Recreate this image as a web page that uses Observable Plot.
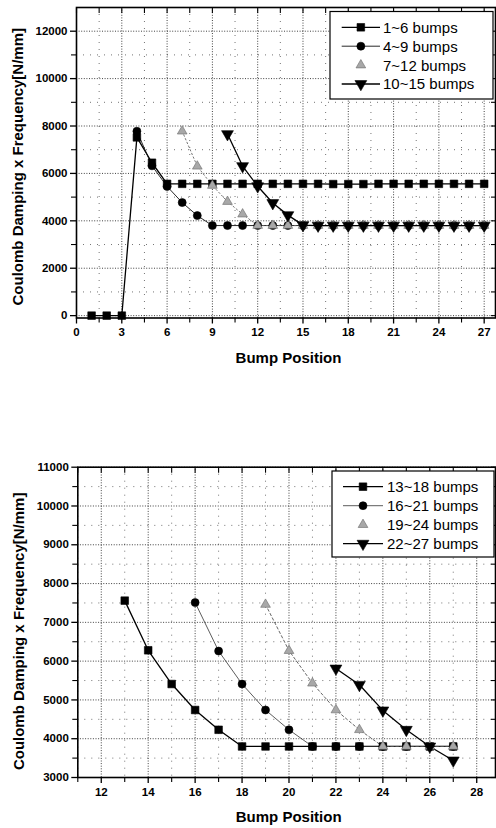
<!DOCTYPE html>
<html><head><meta charset="utf-8">
<script src="https://cdn.jsdelivr.net/npm/d3@7"></script>
<script src="https://cdn.jsdelivr.net/npm/@observablehq/plot@0.6"></script>
<style>
body{margin:0;background:#fff;}
#wrap{width:496px;height:828px;overflow:hidden;background:#fff;}
#wrap svg{display:block;}
</style></head><body><div id="wrap"></div>
<script>
// ---------- DATA (top chart) ----------
const s1Pos = [1,2,3,4,5,6,7,8,9,10,11,12,13,14,15,16,17,18,19,20,21,22,23,24,25,26,27];
const s1Val = [0,0,0,7520,6450,5560,5560,5560,5560,5560,5560,5560,5560,5560,5560,5560,5550,5550,5550,5560,5560,5560,5560,5560,5560,5560,5560];
const s2Pos = [4,5,6,7,8,9,10,11,12,13,14,15,16,17,18,19,20,21,22,23,24,25,26,27];
const s2Val = [7780,6320,5450,4770,4220,3800,3800,3800,3800,3800,3800,3800,3800,3800,3800,3800,3800,3800,3800,3800,3800,3800,3800,3800];
const s3Pos = [7,8,9,10,11,12,13,14,15,16,17,18,19,20,21,22,23,24,25,26,27];
const s3Val = [7780,6300,5490,4810,4280,3800,3800,3800,3800,3800,3800,3800,3800,3800,3800,3800,3800,3800,3800,3800,3800];
const s4Pos = [10,11,12,13,14,15,16,17,18,19,20,21,22,23,24,25,26,27];
const s4Val = [7660,6310,5460,4750,4240,3820,3800,3800,3800,3800,3800,3800,3800,3800,3800,3800,3800,3800];
const topNames = ["1~6 bumps","4~9 bumps","7~12 bumps","10~15 bumps"];
const topXTicks = [0,3,6,9,12,15,18,21,24,27];
const topXMinor = [1.5,4.5,7.5,10.5,13.5,16.5,19.5,22.5,25.5];
const topYTicks = [0,2000,4000,6000,8000,10000,12000];
const topYMinor = [1000,3000,5000,7000,9000,11000];

// ---------- DATA (bottom chart) ----------
const s5Pos = [13,14,15,16,17,18,19,20,21,22,23,24,25,26,27];
const s5Val = [7560,6280,5410,4740,4230,3800,3800,3800,3800,3800,3800,3800,3800,3800,3800];
const s6Pos = [16,17,18,19,20,21,22,23,24,25,26,27];
const s6Val = [7510,6260,5410,4740,4230,3800,3800,3800,3800,3800,3800,3800];
const s7Pos = [19,20,21,22,23,24,25,26,27];
const s7Val = [7460,6270,5430,4740,4230,3800,3800,3800,3800];
const s8Pos = [22,23,24,25,26,27];
const s8Val = [5810,5390,4730,4230,3800,3440];
const botNames = ["13~18 bumps","16~21 bumps","19~24 bumps","22~27 bumps"];
const botXTicks = [12,14,16,18,20,22,24,26,28];
const botXMinor = [11,13,15,17,19,21,23,25,27];
const botYTicks = [3000,4000,5000,6000,7000,8000,9000,10000,11000];
const botYMinor = [3500,4500,5500,6500,7500,8500,9500,10500];

const yLabel = "Coulomb Damping x Frequency[N/mm]";
const xLabel = "Bump Position";

// ---------- STYLES ----------
const styles = [
  {symbol:"square",   rotate:0,   r:4.3, fill:"#000", stroke:"#000", line:"#000", lw:1.3, dash:null, legendLine:true},
  {symbol:"circle",   rotate:0,   r:4.0, fill:"#000", stroke:"#000", line:"#111", lw:0.9, dash:null, legendLine:true},
  {symbol:"triangle", rotate:0,   r:3.6, fill:"#a8a8a8", stroke:"#6a6a6a", line:"#666", lw:0.9, dash:"1.5,2.5", legendLine:false},
  {symbol:"triangle", rotate:180, r:4.4, fill:"#000", stroke:"#000", line:"#000", lw:1.3, dash:null, legendLine:true}
];
const stylesBot = [
  {symbol:"square",   rotate:0,   r:4.3, fill:"#000", stroke:"#000", line:"#000", lw:1.3, dash:null, legendLine:true},
  {symbol:"circle",   rotate:0,   r:4.0, fill:"#000", stroke:"#000", line:"#333", lw:0.8, dash:null, legendLine:true},
  {symbol:"triangle", rotate:0,   r:3.6, fill:"#a8a8a8", stroke:"#6a6a6a", line:"#555", lw:0.9, dash:"2.5,2.5", legendLine:false},
  {symbol:"triangle", rotate:180, r:4.4, fill:"#000", stroke:"#000", line:"#000", lw:1.3, dash:null, legendLine:true}
];

const rows = (pos, val) => pos.map((x, i) => ({x, y: val[i]}));
const FONT = "'Liberation Sans', Arial, Helvetica, sans-serif";
const fmt = d3.format("d");

function chart(cfg) {
  const marks = [
    Plot.gridX(cfg.xMinor, {stroke:"#000", strokeOpacity:0.55, strokeDasharray:"1,6"}),
    Plot.gridY(cfg.yMinor, {stroke:"#000", strokeOpacity:0.55, strokeDasharray:"1,6"}),
    Plot.gridX(cfg.xTicks, {stroke:"#000", strokeOpacity:0.75, strokeDasharray:"1,1.6"}),
    Plot.gridY(cfg.yTicks, {stroke:"#000", strokeOpacity:0.75, strokeDasharray:"1,1.6"})
  ];
  cfg.series.forEach((d, i) => {
    const st = cfg.styles[i];
    marks.push(Plot.line(d, {x:"x", y:"y", stroke:st.line, strokeWidth:st.lw, strokeDasharray:st.dash}));
  });
  cfg.series.forEach((d, i) => {
    const st = cfg.styles[i];
    marks.push(Plot.dot(d, {x:"x", y:"y", symbol:st.symbol, r:st.r, fill:st.fill, stroke:st.stroke, strokeWidth:0.6, rotate:st.rotate}));
  });
  marks.push(
    Plot.frame({stroke:"#000", strokeWidth:1.6}),
    Plot.axisX(cfg.xTicks, {anchor:"bottom", tickSize:6, tickPadding:4, fontSize:11.5, fontWeight:"bold", tickFormat:fmt, label:null, strokeWidth:1.3}),
    Plot.axisX(cfg.xMinor, {anchor:"bottom", tickSize:5, tickFormat:() => "", label:null, strokeWidth:1.1}),
    Plot.axisX(cfg.xTicks.concat(cfg.xMinor), {anchor:"top", tickSize:-5, tickFormat:() => "", label:null, strokeWidth:1.1}),
    Plot.axisY(cfg.yTicks, {anchor:"left", tickSize:6, tickPadding:3, fontSize:11.5, fontWeight:"bold", tickFormat:fmt, label:null, strokeWidth:1.3}),
    Plot.axisY(cfg.yMinor, {anchor:"left", tickSize:5, tickFormat:() => "", label:null, strokeWidth:1.1}),
    Plot.axisY(cfg.yTicks.concat(cfg.yMinor), {anchor:"right", tickSize:-5, tickFormat:() => "", label:null, strokeWidth:1.1}),
    Plot.text([xLabel], {frameAnchor:"bottom", dx:cfg.xlDx, dy:cfg.xlDy, lineAnchor:"middle", fontSize:15, fontWeight:"bold", fill:"#000"}),
    Plot.text([yLabel], {frameAnchor:"left", dx:cfg.ylDx, dy:cfg.ylDy, rotate:-90, lineAnchor:"middle", textAnchor:"middle", fontSize:15, fontWeight:"bold", fill:"#000"})
  );
  const svg = Plot.plot({
    width: 496, height: cfg.height,
    marginTop: cfg.mt, marginBottom: cfg.mb, marginLeft: cfg.ml, marginRight: 1,
    style: {fontFamily: FONT, color:"#000", background:"#fff", overflow:"visible"},
    x: {domain: cfg.xDomain},
    y: {domain: cfg.yDomain},
    marks
  });
  // legend
  const L = cfg.legend;
  const g = d3.select(svg).append("g").attr("font-family", FONT).attr("text-anchor", "start");
  g.append("rect").attr("x", L.x).attr("y", L.y).attr("width", L.w).attr("height", L.h)
    .attr("fill", "#fff").attr("stroke", "#000").attr("stroke-width", 1.2);
  cfg.names.forEach((name, i) => {
    const st = cfg.styles[i];
    const yy = L.row0 + i * L.step;
    if (st.legendLine) {
      g.append("line").attr("x1", L.lx1).attr("x2", L.lx2).attr("y1", yy).attr("y2", yy)
        .attr("stroke", st.line).attr("stroke-width", st.lw);
    }
    const sym = {square: d3.symbolSquare, circle: d3.symbolCircle, triangle: d3.symbolTriangle}[st.symbol];
    g.append("path").attr("d", d3.symbol(sym, Math.PI * st.r * st.r)())
      .attr("transform", `translate(${(L.lx1 + L.lx2) / 2},${yy}) rotate(${st.rotate})`)
      .attr("fill", st.fill).attr("stroke", st.stroke).attr("stroke-width", 0.6);
    g.append("text").attr("x", L.tx).attr("y", yy).attr("dy", "0.36em")
      .attr("text-anchor", "start").attr("font-size", 15).attr("fill", "#000").text(name);
  });
  return svg;
}

const wrap = document.getElementById("wrap");
wrap.appendChild(chart({
  height: 372, mt: 7, mb: 54.5, ml: 76,
  xDomain: [0, 27.75], yDomain: [-100, 13000],
  xTicks: topXTicks, xMinor: topXMinor, yTicks: topYTicks, yMinor: topYMinor,
  series: [rows(s1Pos, s1Val), rows(s2Pos, s2Val), rows(s3Pos, s3Val), rows(s4Pos, s4Val)],
  styles, names: topNames,
  xlDx: 2.5, xlDy: 40.5, ylDx: -58.5, ylDy: 4,
  legend: {x: 330, y: 11.5, w: 163, h: 87.5, row0: 27.3, step: 18.9, lx1: 341.7, lx2: 380, tx: 383}
}));
wrap.appendChild(chart({
  height: 456, mt: 94.7, mb: 51, ml: 77.3,
  xDomain: [11, 28.8], yDomain: [3000, 11000],
  xTicks: botXTicks, xMinor: botXMinor, yTicks: botYTicks, yMinor: botYMinor,
  series: [rows(s5Pos, s5Val), rows(s6Pos, s6Val), rows(s7Pos, s7Val), rows(s8Pos, s8Val)],
  styles: stylesBot, names: botNames,
  xlDx: 2, xlDy: 39.7, ylDx: -58.3, ylDy: 9,
  legend: {x: 332, y: 99, w: 162, h: 86, row0: 114.7, step: 19, lx1: 343, lx2: 383, tx: 387}
}));
</script></body></html>
